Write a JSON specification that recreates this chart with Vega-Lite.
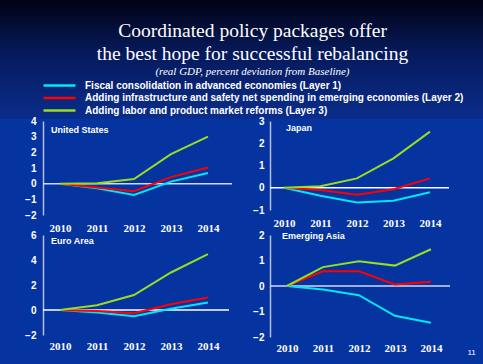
{
  "$schema": "https://vega.github.io/schema/vega-lite/v6.json",
  "background": "#0533a0",
  "padding": {"left": 0, "top": 0, "right": 0, "bottom": 20},
  "config": {
    "view": {"stroke": null},
    "axis": {"grid": false, "labelColor": "white", "titleColor": "white", "labelOverlap": false},
    "axisY": {"domainColor": "#b4bfe2", "domainWidth": 1.5, "ticks": false, "tickSize": 0, "labelFont": "Liberation Sans", "labelFontWeight": "bold", "labelFontSize": 10, "labelPadding": 7, "title": null, "format": "d"},
    "axisX": {"domain": false, "ticks": false, "tickSize": 0, "labelFont": "Liberation Serif", "labelFontWeight": "bold", "labelFontSize": 11, "labelPadding": 7, "labelFlush": false, "title": null, "format": "d"},
    "title": {"color": "white", "anchor": "start", "frame": "group", "font": "Liberation Sans", "fontWeight": "bold", "fontSize": 9, "baseline": "top"},
    "legend": {"orient": "none", "legendX": 42, "legendY": 80, "title": null, "symbolType": "stroke", "symbolSize": 1024, "symbolStrokeWidth": 2.5, "clipHeight": 11, "rowPadding": 1.5, "labelOffset": 8, "labelFont": "Liberation Sans", "labelFontWeight": "bold", "labelFontSize": 10, "labelColor": "white", "labelLimit": 600}
  },
  "datasets": {
    "gdp": [
      {"region": "United States", "year": 2010, "series": "Fiscal consolidation in advanced economies (Layer 1)", "value": 0},
      {"region": "United States", "year": 2011, "series": "Fiscal consolidation in advanced economies (Layer 1)", "value": -0.3},
      {"region": "United States", "year": 2012, "series": "Fiscal consolidation in advanced economies (Layer 1)", "value": -0.72},
      {"region": "United States", "year": 2013, "series": "Fiscal consolidation in advanced economies (Layer 1)", "value": 0.13},
      {"region": "United States", "year": 2014, "series": "Fiscal consolidation in advanced economies (Layer 1)", "value": 0.68},
      {"region": "United States", "year": 2010, "series": "Adding infrastructure and safety net spending in emerging economies (Layer 2)", "value": 0},
      {"region": "United States", "year": 2011, "series": "Adding infrastructure and safety net spending in emerging economies (Layer 2)", "value": -0.25},
      {"region": "United States", "year": 2012, "series": "Adding infrastructure and safety net spending in emerging economies (Layer 2)", "value": -0.48},
      {"region": "United States", "year": 2013, "series": "Adding infrastructure and safety net spending in emerging economies (Layer 2)", "value": 0.42},
      {"region": "United States", "year": 2014, "series": "Adding infrastructure and safety net spending in emerging economies (Layer 2)", "value": 1.03},
      {"region": "United States", "year": 2010, "series": "Adding labor and product market reforms (Layer 3)", "value": 0},
      {"region": "United States", "year": 2011, "series": "Adding labor and product market reforms (Layer 3)", "value": 0.02},
      {"region": "United States", "year": 2012, "series": "Adding labor and product market reforms (Layer 3)", "value": 0.3},
      {"region": "United States", "year": 2013, "series": "Adding labor and product market reforms (Layer 3)", "value": 1.88},
      {"region": "United States", "year": 2014, "series": "Adding labor and product market reforms (Layer 3)", "value": 3.0},
      {"region": "Japan", "year": 2010, "series": "Fiscal consolidation in advanced economies (Layer 1)", "value": 0},
      {"region": "Japan", "year": 2011, "series": "Fiscal consolidation in advanced economies (Layer 1)", "value": -0.36},
      {"region": "Japan", "year": 2012, "series": "Fiscal consolidation in advanced economies (Layer 1)", "value": -0.66},
      {"region": "Japan", "year": 2013, "series": "Fiscal consolidation in advanced economies (Layer 1)", "value": -0.58},
      {"region": "Japan", "year": 2014, "series": "Fiscal consolidation in advanced economies (Layer 1)", "value": -0.2},
      {"region": "Japan", "year": 2010, "series": "Adding infrastructure and safety net spending in emerging economies (Layer 2)", "value": 0},
      {"region": "Japan", "year": 2011, "series": "Adding infrastructure and safety net spending in emerging economies (Layer 2)", "value": -0.1},
      {"region": "Japan", "year": 2012, "series": "Adding infrastructure and safety net spending in emerging economies (Layer 2)", "value": -0.31},
      {"region": "Japan", "year": 2013, "series": "Adding infrastructure and safety net spending in emerging economies (Layer 2)", "value": -0.07},
      {"region": "Japan", "year": 2014, "series": "Adding infrastructure and safety net spending in emerging economies (Layer 2)", "value": 0.42},
      {"region": "Japan", "year": 2010, "series": "Adding labor and product market reforms (Layer 3)", "value": 0},
      {"region": "Japan", "year": 2011, "series": "Adding labor and product market reforms (Layer 3)", "value": 0.07},
      {"region": "Japan", "year": 2012, "series": "Adding labor and product market reforms (Layer 3)", "value": 0.42},
      {"region": "Japan", "year": 2013, "series": "Adding labor and product market reforms (Layer 3)", "value": 1.32},
      {"region": "Japan", "year": 2014, "series": "Adding labor and product market reforms (Layer 3)", "value": 2.52},
      {"region": "Euro Area", "year": 2010, "series": "Fiscal consolidation in advanced economies (Layer 1)", "value": 0},
      {"region": "Euro Area", "year": 2011, "series": "Fiscal consolidation in advanced economies (Layer 1)", "value": -0.2},
      {"region": "Euro Area", "year": 2012, "series": "Fiscal consolidation in advanced economies (Layer 1)", "value": -0.5},
      {"region": "Euro Area", "year": 2013, "series": "Fiscal consolidation in advanced economies (Layer 1)", "value": 0.1},
      {"region": "Euro Area", "year": 2014, "series": "Fiscal consolidation in advanced economies (Layer 1)", "value": 0.6},
      {"region": "Euro Area", "year": 2010, "series": "Adding infrastructure and safety net spending in emerging economies (Layer 2)", "value": 0},
      {"region": "Euro Area", "year": 2011, "series": "Adding infrastructure and safety net spending in emerging economies (Layer 2)", "value": -0.08},
      {"region": "Euro Area", "year": 2012, "series": "Adding infrastructure and safety net spending in emerging economies (Layer 2)", "value": -0.25},
      {"region": "Euro Area", "year": 2013, "series": "Adding infrastructure and safety net spending in emerging economies (Layer 2)", "value": 0.46},
      {"region": "Euro Area", "year": 2014, "series": "Adding infrastructure and safety net spending in emerging economies (Layer 2)", "value": 1.0},
      {"region": "Euro Area", "year": 2010, "series": "Adding labor and product market reforms (Layer 3)", "value": 0},
      {"region": "Euro Area", "year": 2011, "series": "Adding labor and product market reforms (Layer 3)", "value": 0.38},
      {"region": "Euro Area", "year": 2012, "series": "Adding labor and product market reforms (Layer 3)", "value": 1.2},
      {"region": "Euro Area", "year": 2013, "series": "Adding labor and product market reforms (Layer 3)", "value": 3.0},
      {"region": "Euro Area", "year": 2014, "series": "Adding labor and product market reforms (Layer 3)", "value": 4.47},
      {"region": "Emerging Asia", "year": 2010, "series": "Fiscal consolidation in advanced economies (Layer 1)", "value": 0},
      {"region": "Emerging Asia", "year": 2011, "series": "Fiscal consolidation in advanced economies (Layer 1)", "value": -0.14},
      {"region": "Emerging Asia", "year": 2012, "series": "Fiscal consolidation in advanced economies (Layer 1)", "value": -0.36},
      {"region": "Emerging Asia", "year": 2013, "series": "Fiscal consolidation in advanced economies (Layer 1)", "value": -1.17},
      {"region": "Emerging Asia", "year": 2014, "series": "Fiscal consolidation in advanced economies (Layer 1)", "value": -1.44},
      {"region": "Emerging Asia", "year": 2010, "series": "Adding infrastructure and safety net spending in emerging economies (Layer 2)", "value": 0},
      {"region": "Emerging Asia", "year": 2011, "series": "Adding infrastructure and safety net spending in emerging economies (Layer 2)", "value": 0.58},
      {"region": "Emerging Asia", "year": 2012, "series": "Adding infrastructure and safety net spending in emerging economies (Layer 2)", "value": 0.58},
      {"region": "Emerging Asia", "year": 2013, "series": "Adding infrastructure and safety net spending in emerging economies (Layer 2)", "value": 0.06},
      {"region": "Emerging Asia", "year": 2014, "series": "Adding infrastructure and safety net spending in emerging economies (Layer 2)", "value": 0.17},
      {"region": "Emerging Asia", "year": 2010, "series": "Adding labor and product market reforms (Layer 3)", "value": 0},
      {"region": "Emerging Asia", "year": 2011, "series": "Adding labor and product market reforms (Layer 3)", "value": 0.74},
      {"region": "Emerging Asia", "year": 2012, "series": "Adding labor and product market reforms (Layer 3)", "value": 0.97},
      {"region": "Emerging Asia", "year": 2013, "series": "Adding labor and product market reforms (Layer 3)", "value": 0.8},
      {"region": "Emerging Asia", "year": 2014, "series": "Adding labor and product market reforms (Layer 3)", "value": 1.44}
    ]
  },
  "spacing": -4,
  "vconcat": [
    {
      "width": 483,
      "height": 119,
      "view": {"stroke": null, "fill": {"gradient": "linear", "x1": 0, "y1": 0, "x2": 0, "y2": 1, "stops": [{"offset": 0, "color": "#020214"}, {"offset": 0.45, "color": "#061a5c"}, {"offset": 1, "color": "#0a2d8c"}]}},
      "title": {"text": ["Coordinated policy packages offer", "the best hope for successful rebalancing"], "subtitle": "(real GDP, percent deviation from Baseline)", "anchor": "middle", "frame": "group", "baseline": "bottom", "offset": -97, "dx": 11, "font": "Liberation Serif", "fontWeight": "normal", "fontSize": 19.5, "lineHeight": 23, "color": "white", "subtitleFont": "Liberation Serif", "subtitleFontStyle": "italic", "subtitleFontSize": 11, "subtitleColor": "white", "subtitlePadding": -6},
      "data": {"values": [{"t": ""}]},
      "mark": {"type": "text"},
      "encoding": {"text": {"field": "t", "type": "nominal"}}
    },
    {
      "spacing": 12,
      "hconcat": [
        {"width": 1, "height": 1, "data": {"values": [{"t": ""}]}, "mark": {"type": "text"}, "encoding": {"text": {"field": "t", "type": "nominal"}}},
        {
          "width": 189, "height": 94,
          "title": {"text": "United States", "offset": -19, "dx": 8},
          "layer": [
            {"data": {"values": [{}]}, "mark": {"type": "rule", "color": "#d4d9ec", "strokeWidth": 1.5}, "encoding": {"y": {"datum": 0, "type": "quantitative"}}},
            {"data": {"name": "gdp"}, "transform": [{"filter": "datum.region === 'United States'"}],
             "mark": {"type": "line", "strokeWidth": 2},
             "encoding": {
               "x": {"field": "year", "type": "quantitative", "scale": {"domain": [2009.54, 2014.65], "nice": false, "zero": false}, "axis": {"values": [2010, 2011, 2012, 2013, 2014], "tickCount": 20}},
               "y": {"field": "value", "type": "quantitative", "scale": {"domain": [-2, 4], "nice": false}, "axis": {"values": [-2, -1, 0, 1, 2, 3, 4], "tickCount": 20, "minExtent": 30}},
               "color": {"field": "series", "type": "nominal", "scale": {"domain": ["Fiscal consolidation in advanced economies (Layer 1)", "Adding infrastructure and safety net spending in emerging economies (Layer 2)", "Adding labor and product market reforms (Layer 3)"], "range": ["#00e8f8", "#ff0000", "#99dd22"]}}
             }}
          ]
        },
        {
          "width": 179, "height": 89,
          "title": {"text": "Japan", "offset": -17, "dx": 16},
          "layer": [
            {"data": {"values": [{}]}, "mark": {"type": "rule", "color": "#ffffff", "strokeWidth": 1.5}, "encoding": {"y": {"datum": 0, "type": "quantitative"}}},
            {"data": {"name": "gdp"}, "transform": [{"filter": "datum.region === 'Japan'"}],
             "mark": {"type": "line", "strokeWidth": 2},
             "encoding": {
               "x": {"field": "year", "type": "quantitative", "scale": {"domain": [2009.62, 2014.52], "nice": false, "zero": false}, "axis": {"values": [2010, 2011, 2012, 2013, 2014], "tickCount": 20}},
               "y": {"field": "value", "type": "quantitative", "scale": {"domain": [-1, 3], "nice": false}, "axis": {"values": [-1, 0, 1, 2, 3], "tickCount": 20, "minExtent": 25, "labelPadding": 6}},
               "color": {"field": "series", "type": "nominal"}
             }}
          ]
        }
      ]
    },
    {
      "spacing": 15,
      "hconcat": [
        {"width": 1, "height": 1, "data": {"values": [{"t": ""}]}, "mark": {"type": "text"}, "encoding": {"text": {"field": "t", "type": "nominal"}}},
        {
          "width": 186, "height": 100,
          "title": {"text": "Euro Area", "offset": -16, "dx": 8},
          "layer": [
            {"data": {"values": [{}]}, "mark": {"type": "rule", "color": "#ffffff", "strokeWidth": 1.5}, "encoding": {"y": {"datum": 0, "type": "quantitative"}}},
            {"data": {"name": "gdp"}, "transform": [{"filter": "datum.region === 'Euro Area'"}],
             "mark": {"type": "line", "strokeWidth": 2},
             "encoding": {
               "x": {"field": "year", "type": "quantitative", "scale": {"domain": [2009.54, 2014.57], "nice": false, "zero": false}, "axis": {"values": [2010, 2011, 2012, 2013, 2014], "tickCount": 20, "labelPadding": 5}},
               "y": {"field": "value", "type": "quantitative", "scale": {"domain": [-2, 6], "nice": false}, "axis": {"values": [-2, 0, 2, 4, 6], "tickCount": 20, "minExtent": 27}},
               "color": {"field": "series", "type": "nominal"}
             }}
          ]
        },
        {
          "width": 180, "height": 102,
          "title": {"text": "Emerging Asia", "offset": -11, "dx": 12},
          "layer": [
            {"data": {"values": [{}]}, "mark": {"type": "rule", "color": "#d4d9ec", "strokeWidth": 1.5}, "encoding": {"y": {"datum": 0, "type": "quantitative"}}},
            {"data": {"name": "gdp"}, "transform": [{"filter": "datum.region === 'Emerging Asia'"}],
             "mark": {"type": "line", "strokeWidth": 2},
             "encoding": {
               "x": {"field": "year", "type": "quantitative", "scale": {"domain": [2009.53, 2014.53], "nice": false, "zero": false},
                     "axis": {"values": [2010, 2011, 2012, 2013, 2014], "tickCount": 20, "labelPadding": 5, "title": "11", "titleFont": "Liberation Sans", "titleFontWeight": "normal", "titleFontSize": 8, "titleAnchor": "start", "titleX": 197, "titleY": 11, "titleBaseline": "top"}},
               "y": {"field": "value", "type": "quantitative", "scale": {"domain": [-2, 2], "nice": false}, "axis": {"values": [-2, -1, 0, 1, 2], "tickCount": 20, "minExtent": 25, "labelPadding": 6}},
               "color": {"field": "series", "type": "nominal"}
             }}
          ]
        }
      ]
    }
  ]
}
